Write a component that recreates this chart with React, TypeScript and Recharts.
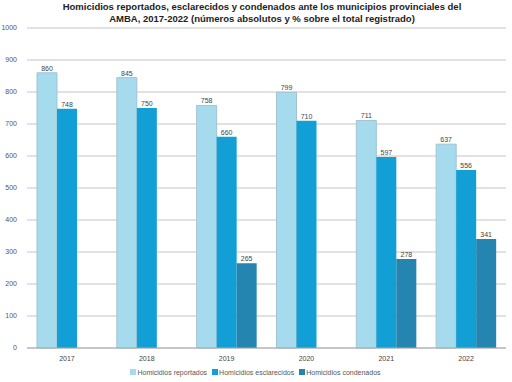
import React from 'react';
import { BarChart, Bar, XAxis, YAxis, CartesianGrid, Legend, LabelList } from 'recharts';

const years = ['2017', '2018', '2019', '2020', '2021', '2022'];
const reportados = [860, 845, 758, 799, 711, 637];
const esclarecidos = [748, 750, 660, 710, 597, 556];
const condenados: (number | null)[] = [null, null, 265, null, 278, 341];
const yTicks = [0, 100, 200, 300, 400, 500, 600, 700, 800, 900, 1000];

const series = [
  { key: 'reportados', name: 'Homicidios reportados', color: '#a6dbee' },
  { key: 'esclarecidos', name: 'Homicidios esclarecidos', color: '#119fd6' },
  { key: 'condenados', name: 'Homicidios condenados', color: '#2485b1' },
];

const data = years.map((year, i) => ({
  year,
  reportados: reportados[i],
  esclarecidos: esclarecidos[i],
  condenados: condenados[i],
}));

const font = 'Liberation Sans, Arial, sans-serif';

const LegendContent = () => (
  <div style={{ height: 20, display: 'flex', justifyContent: 'center', alignItems: 'center', fontFamily: font, fontSize: 7, color: '#555', paddingLeft: 10 }}>
    {series.map((s) => (
      <span key={s.key} style={{ display: 'inline-flex', alignItems: 'center', marginRight: 5 }}>
        <span style={{ width: 6, height: 6, background: s.color, display: 'inline-block', marginRight: 1 }} />
        {s.name}
      </span>
    ))}
  </div>
);

const App: React.FC = () => {
  return (
    <div style={{ position: 'absolute', left: 0, top: 0, width: 512, height: 382, background: '#fff' }}>
      <div
        style={{
          position: 'absolute',
          top: 1,
          left: 0,
          width: 524,
          textAlign: 'center',
          fontFamily: font,
          fontWeight: 'bold',
          fontSize: 9.5,
          lineHeight: '12px',
          color: '#222',
        }}
      >
        Homicidios reportados, esclarecidos y condenados ante los municipios provinciales del
        <br />
        AMBA, 2017-2022 (números absolutos y % sobre el total registrado)
      </div>
      <BarChart
        width={512}
        height={382}
        data={data}
        margin={{ top: 28, right: 6, left: 0, bottom: 0 }}
        barGap={0}
        barSize={20}
      >
        <CartesianGrid vertical={false} stroke="#c4c4c4" />
        <XAxis
          dataKey="year"
          height={14}
          tickLine={false}
          axisLine={{ stroke: '#aaa' }}
          tick={{ fontSize: 7, fill: '#444', fontFamily: font }}
          tickMargin={2}
        />
        <YAxis
          width={27}
          domain={[0, 1000]}
          ticks={yTicks}
          tickLine={false}
          axisLine={false}
          tick={{ fontSize: 7, fill: '#555', fontFamily: font }}
          tickMargin={4}
        />
        <Legend verticalAlign="bottom" content={<LegendContent />} />
        {series.map((s) => (
          <Bar
            key={s.key}
            dataKey={s.key}
            name={s.name}
            fill={s.color}
            stroke={s.key === 'reportados' ? '#a0c4d3' : undefined}
            strokeWidth={s.key === 'reportados' ? 1 : 0}
            isAnimationActive={false}
          >
            <LabelList dataKey={s.key} position="top" offset={2} style={{ fontSize: 7, fill: '#444', fontFamily: font }} />
          </Bar>
        ))}
      </BarChart>
    </div>
  );
};

export default App;
